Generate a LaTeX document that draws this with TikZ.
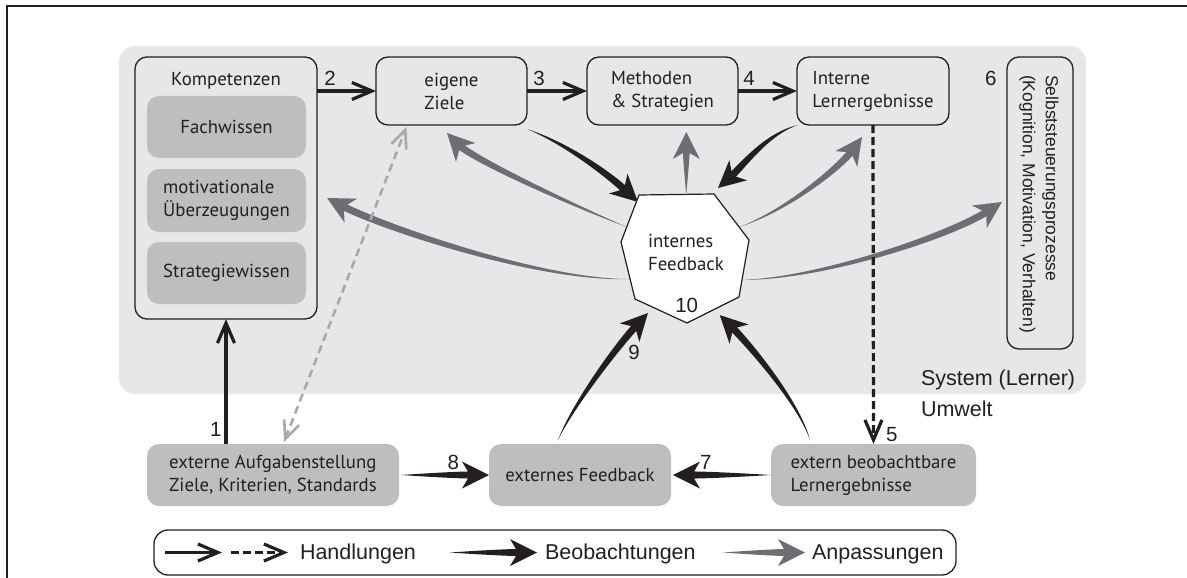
\documentclass[tikz,border=0pt]{standalone}
\usepackage{fontspec}
\setmainfont{PT Sans}
\newfontfamily\arialf{Liberation Sans}
\usetikzlibrary{calc,arrows.meta}

\definecolor{sysbg}{HTML}{E6E7E8}
\definecolor{boxdark}{HTML}{BCBEC0}
\definecolor{ink}{HTML}{231F20}
\definecolor{adapt}{HTML}{6D6E71}
\definecolor{dashgray}{HTML}{A7A9AC}

\newcommand\boxfont{\fontsize{18.8}{23}\selectfont}
\newcommand\numfont{\arialf\fontsize{20.5}{24}\selectfont}
\newcommand\labelfont{\arialf\fontsize{21.5}{25}\selectfont}
\newcommand\selbstfont{\arialf\fontsize{17.5}{23}\selectfont}

% tapered arrow: colour, start, control 1, control 2, tip (coordinate names)
\newcommand\taperarrow[5]{%
  \path ($(#5)!15pt!(#4)$) coordinate (tp-e)
        ($(tp-e)!3.6pt!90:(#5)$) coordinate (tp-l)
        ($(tp-e)!3.6pt!-90:(#5)$) coordinate (tp-r)
        ($(#5)!27pt!(#4)$) coordinate (tp-b)
        ($(tp-b)!13.5pt!90:(#5)$) coordinate (tp-bl)
        ($(tp-b)!13.5pt!-90:(#5)$) coordinate (tp-br)
        ($(#5)!19pt!(#4)$) coordinate (tp-n);
  \fill[#1] (#2) .. controls ($(#3)!0.55!($(#3)+(tp-l)-(tp-e)$)$) and ($(#4)+(tp-l)-(tp-e)$) .. (tp-l)
        -- (tp-r) .. controls ($(#4)+(tp-r)-(tp-e)$) and ($(#3)!0.55!($(#3)+(tp-r)-(tp-e)$)$) .. (#2) -- cycle;
  \fill[#1] (#5) -- (tp-bl) -- (tp-n) -- (tp-br) -- cycle;
}

\begin{document}
\begin{tikzpicture}[x=1pt,y=-1pt,
  every node/.style={inner sep=0pt,outer sep=0pt,text=ink},
  lightbox/.style={draw=ink,line width=1.3pt,fill=sysbg,rounded corners=12pt,align=left,font=\boxfont},
  darkbox/.style={fill=boxdark,rounded corners=12pt,align=left,font=\boxfont},
  hand/.style={draw=ink,line width=3.2pt,-{Straight Barb[length=20pt,width=17pt]}},
  handdash/.style={hand,dash pattern=on 8pt off 4pt},
  num/.style={font=\numfont,anchor=base},
  sidelabel/.style={font=\labelfont,anchor=base west},
]
\useasboundingbox (0,0) rectangle (1187,578);
\clip (0,0) rectangle (1187,578);

% outer frame and learner system area
\draw[ink,line width=2pt] (7,6) rectangle (1210,600);
\fill[sysbg,rounded corners=16pt] (119,46) rectangle (1086,394);

% competences
\node[lightbox,minimum width=182pt,minimum height=262pt] (komp) at (226,188) {};
\node[font=\boxfont,anchor=base] (kompT) at (226,86) {Kompetenzen};
\node[darkbox,minimum width=159pt,minimum height=62pt] (fach) at (226.5,127) {Fachwissen};
\node[darkbox,minimum width=159pt,minimum height=63pt] (motiv) at (226.5,200.5) {motivationale\\Überzeugungen};
\node[darkbox,minimum width=159pt,minimum height=62pt] (strat) at (226.5,273) {Strategiewissen};

% top row
\node[lightbox,minimum width=151pt,minimum height=68pt] (ziele) at (451.5,91) {eigene\\Ziele};
\node[lightbox,minimum width=151pt,minimum height=68pt] (meth) at (662.5,91) {Methoden\\\& Strategien};
\node[lightbox,minimum width=152pt,minimum height=68pt] (intern) at (873,91) {Interne\\Lernergebnisse};
\node[lightbox,minimum width=66pt,minimum height=292pt] (selbst) at (1040,203) {};
\node[rotate=-90,align=left,font=\selbstfont] (selbstT) at (1039,204) {Selbststeuerungsprozesse\\(Kognition, Motivation, Verhalten)};

% environment
\node[darkbox,minimum width=252pt,minimum height=62pt] (aufg) at (273,475) {externe Aufgabenstellung\\Ziele, Kriterien, Standards};
\node[darkbox,minimum width=182pt,minimum height=62pt] (extfb) at (580,475) {externes Feedback};
\node[darkbox,minimum width=205pt,minimum height=62pt] (beob) at (873.5,475) {extern beobachtbare\\Lernergebnisse};

\node[sidelabel] (sys) at (921,385) {System (Lerner)};
\node[sidelabel] (umw) at (921,416.5) {Umwelt};

% corners of the internal feedback heptagon
\coordinate (hTL) at (639,195);
\coordinate (hTR) at (714,194);
\coordinate (hR)  at (749,240);
\coordinate (hLR) at (739,297);
\coordinate (hB)  at (687,323);
\coordinate (hLL) at (635,299);
\coordinate (hL)  at (621,242);

% actions
\draw[hand] (komp.south |- aufg.north) -- (komp.south);
\draw[hand] (komp.east |- ziele.west) -- (ziele.west);
\draw[hand] (ziele.east) -- (meth.west);
\draw[hand] (meth.east) -- (intern.west);

% observations
\coordinate (b1s) at ($(ziele.south east)+(0,4)$);
\coordinate (b1a) at (567,144);
\coordinate (b1b) at (608,174);
\coordinate (b1t) at ($(hTL)+(-1,7)$);
\taperarrow{ink}{b1s}{b1a}{b1b}{b1t}

\coordinate (b2s) at ($(intern.south west)+(1,0)$);
\coordinate (b2a) at (766,134);
\coordinate (b2b) at (743,166);
\coordinate (b2t) at ($(hTR)+(4,-6)$);
\taperarrow{ink}{b2s}{b2a}{b2b}{b2t}

\coordinate (b9s) at ($(extfb.north west)+(69,-4)$);
\coordinate (b9a) at (573,405);
\coordinate (b9b) at (618,345);
\coordinate (b9t) at ($($(hLL)!0.25!(hB)$)+(0,8)$);
\taperarrow{ink}{b9s}{b9a}{b9b}{b9t}

\coordinate (bos) at ($(beob.north west)+(39,-4)$);
\coordinate (boa) at (798,400);
\coordinate (bob) at (744,339);
\coordinate (bot) at ($($(hB)!0.63!(hLR)$)+(0,8.5)$);
\taperarrow{ink}{bos}{boa}{bob}{bot}

\coordinate (b8s) at ($(aufg.east)+(2,0)$);
\coordinate (b8t) at (extfb.west);
\coordinate (b8a) at ($(b8s)!0.33!(b8t)$);
\coordinate (b8b) at ($(b8s)!0.67!(b8t)$);
\taperarrow{ink}{b8s}{b8a}{b8b}{b8t}

\coordinate (b7s) at (beob.west);
\coordinate (b7t) at ($(extfb.east)+(2,0)$);
\coordinate (b7a) at ($(b7s)!0.33!(b7t)$);
\coordinate (b7b) at ($(b7s)!0.67!(b7t)$);
\taperarrow{ink}{b7s}{b7a}{b7b}{b7t}

% adaptations
\coordinate (g1s) at ($(hTL)!0.63!(hTR)$);
\coordinate (g1t) at ($(g1s |- meth.south)+(0,7)$);
\coordinate (g1a) at ($(g1s)!0.33!(g1t)$);
\coordinate (g1b) at ($(g1s)!0.67!(g1t)$);
\taperarrow{adapt}{g1s}{g1a}{g1b}{g1t}

\coordinate (g2s) at ($(hL)!0.32!(hTL)$);
\coordinate (g2a) at (572,205);
\coordinate (g2b) at (472,159);
\coordinate (g2t) at ($(ziele.south)+(-4.5,8)$);
\taperarrow{adapt}{g2s}{g2a}{g2b}{g2t}

\coordinate (g3s) at ($(hL)!0.65!(hLL)$);
\coordinate (g3a) at (540,281);
\coordinate (g3b) at (380,226);
\coordinate (g3t) at ($(motiv.east)+(21,-2.5)$);
\taperarrow{adapt}{g3s}{g3a}{g3b}{g3t}

\coordinate (g4s) at ($(hTR)!0.72!(hR)$);
\coordinate (g4a) at (790,209);
\coordinate (g4b) at (842,165);
\coordinate (g4t) at ($(intern.south)+(-11,12)$);
\taperarrow{adapt}{g4s}{g4a}{g4b}{g4t}

\coordinate (g5s) at ($(hR)!0.7!(hLR)$);
\coordinate (g5a) at (820,279);
\coordinate (g5b) at (950,236);
\coordinate (g5t) at ($(selbst.west)+(-5,-1)$);
\taperarrow{adapt}{g5s}{g5a}{g5b}{g5t}

% dashed actions
\draw[hand,draw=dashgray,line width=2.6pt,dash pattern=on 8pt off 5pt,
      {Straight Barb[length=18pt,width=16pt]}-{Straight Barb[length=18pt,width=16pt]}]
      ($(aufg.north)+(11,-2)$) -- ($(ziele.south)+(-45,2)$);
\draw[handdash] (intern.south) -- (beob.north);

% internal feedback
\draw[ink,line width=1.2pt,fill=white] (hTL) -- (hTR) -- (hR) -- (hLR) -- (hB) -- (hLL) -- (hL) -- cycle;
\node[font=\boxfont,align=left] (fb) at (686,252.5) {internes\\Feedback};

% step numbers
\node[num] (n1) at (215.7,436.7) {1};
\node[num] (n2) at (330,86) {2};
\node[num] (n3) at (539,85.5) {3};
\node[num] (n4) at (749,85.5) {4};
\node[num] (n5) at (891.7,441.7) {5};
\node[num] (n6) at (990.7,86) {6};
\node[num] (n7) at (705.7,469.3) {7};
\node[num] (n8) at (453.3,469.3) {8};
\node[num] (n9) at (634,359.3) {9};
\node[num] (n10) at (686.7,312.3) {10};

% legend
\node[draw=ink,line width=1.3pt,rounded corners=14pt,minimum width=802pt,minimum height=45pt] (legend) at (555,552.5) {};
\coordinate (lg1a) at ($(legend.west)+(11,0)$);
\coordinate (lg1b) at ($(legend.west)+(68,0)$);
\coordinate (lg2a) at ($(legend.west)+(77,0)$);
\coordinate (lg2b) at ($(legend.west)+(134,0)$);
\draw[hand] (lg1a) -- (lg1b);
\draw[handdash] (lg2a) -- (lg2b);
\node[sidelabel] (lgH) at ($(legend.west)+(146,7)$) {Handlungen};
\coordinate (lg3s) at ($(legend.west)+(296,0)$);
\coordinate (lg3t) at ($(legend.west)+(383,0)$);
\coordinate (lg3a) at ($(lg3s)!0.33!(lg3t)$);
\coordinate (lg3b) at ($(lg3s)!0.67!(lg3t)$);
\taperarrow{ink}{lg3s}{lg3a}{lg3b}{lg3t}
\node[sidelabel] (lgB) at ($(legend.west)+(391,7)$) {Beobachtungen};
\coordinate (lg4s) at ($(legend.west)+(569,0)$);
\coordinate (lg4t) at ($(legend.west)+(651,0)$);
\coordinate (lg4a) at ($(lg4s)!0.33!(lg4t)$);
\coordinate (lg4b) at ($(lg4s)!0.67!(lg4t)$);
\taperarrow{adapt}{lg4s}{lg4a}{lg4b}{lg4t}
\node[sidelabel] (lgA) at ($(legend.west)+(658,7)$) {Anpassungen};
\end{tikzpicture}
\end{document}
